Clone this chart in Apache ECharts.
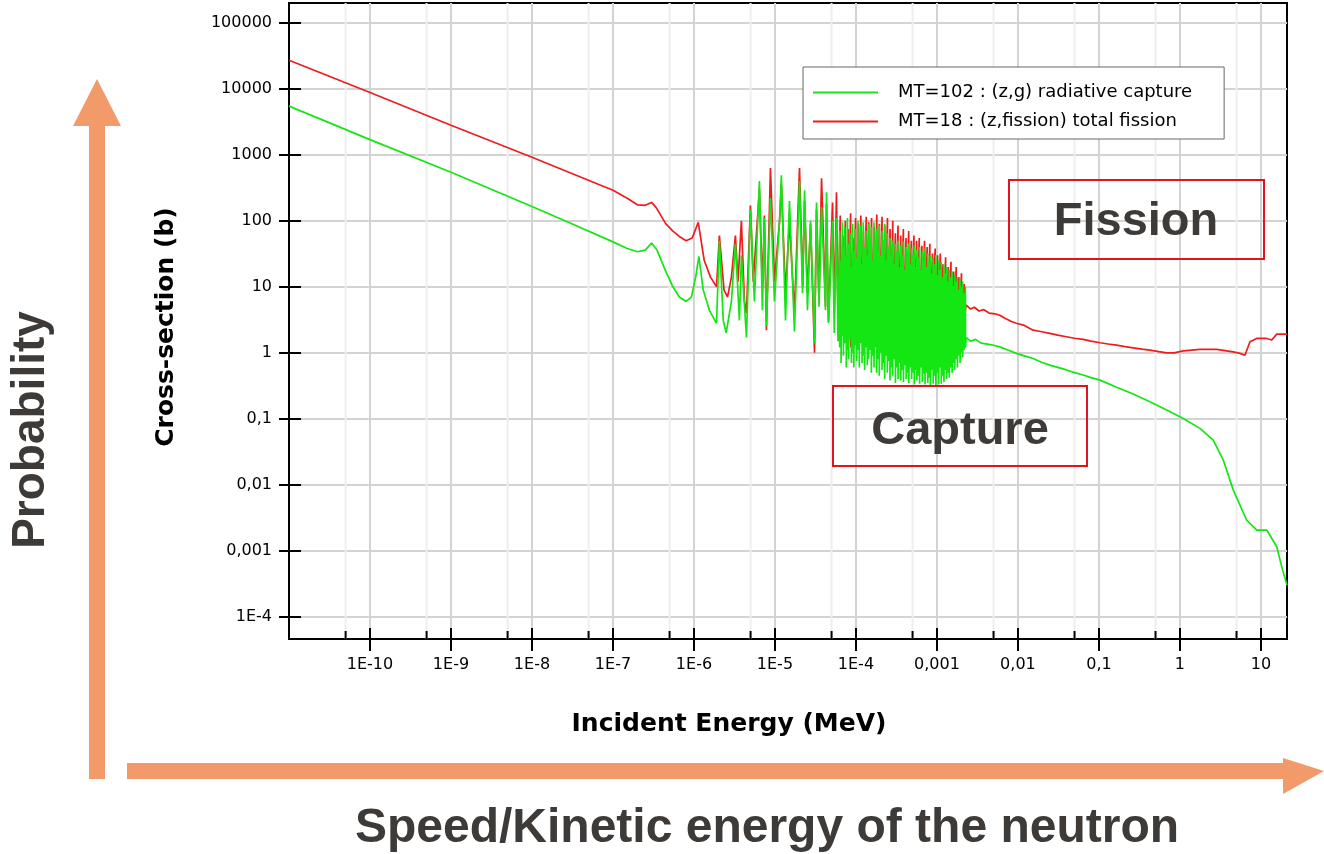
<!DOCTYPE html>
<html>
<head>
<meta charset="utf-8">
<script src="https://cdn.jsdelivr.net/npm/echarts@6/dist/echarts.min.js"></script>
<style>
  html, body { margin: 0; padding: 0; background: #fff; }
  #chart { width: 1324px; height: 854px; }
</style>
</head>
<body>
<div id="chart"></div>
<script>
// ---------------- DATA ----------------
const captureName = 'MT=102 : (z,g) radiative capture';
const fissionName = 'MT=18 : (z,fission) total fission';

// axis extents (MeV, barn)
const xMin = 1e-11, xMax = 21;
const yMin = 4.6e-5, yMax = 2e5;

const xTickValues = [1e-10, 1e-9, 1e-8, 1e-7, 1e-6, 1e-5, 1e-4, 1e-3, 1e-2, 1e-1, 1, 10];
const xTickLabels = ['1E-10', '1E-9', '1E-8', '1E-7', '1E-6', '1E-5', '1E-4', '0,001', '0,01', '0,1', '1', '10'];
const xMinorValues = [5e-11, 5e-10, 5e-9, 5e-8, 5e-7, 5e-6, 5e-5, 5e-4, 5e-3, 5e-2, 0.5, 5];
const yTickValues = [1e-4, 1e-3, 1e-2, 1e-1, 1, 10, 100, 1000, 1e4, 1e5];
const yTickLabels = ['1E-4', '0,001', '0,01', '0,1', '1', '10', '100', '1000', '10000', '100000'];

// Capture (green): thermal + resolved resonances (sparse part)
const capLowE = [1e-11, 1e-10, 1e-9, 1e-8, 3e-8, 1e-7, 1.5e-7, 2e-7, 2.5e-7, 3e-7, 3.5e-7, 4.5e-7, 5.5e-7, 6.6e-7, 8.0e-7, 9.3e-7,
  1.05e-6, 1.15e-6, 1.3e-6, 1.55e-6, 1.9e-6, 2.06e-6, 2.3e-6, 2.5e-6, 2.9e-6, 3.25e-6, 3.64e-6, 3.85e-6, 4.45e-6, 4.98e-6,
  5.58e-6, 6.43e-6, 7.0e-6, 7.41e-6, 7.85e-6, 8.8e-6, 9.86e-6, 1.14e-5, 1.2e-5, 1.35e-5, 1.51e-5, 1.74e-5, 2.01e-5, 2.19e-5,
  2.32e-5, 2.52e-5, 2.75e-5, 3.08e-5, 3.26e-5, 3.5e-5, 3.76e-5, 4.21e-5, 4.33e-5, 4.58e-5, 5.14e-5, 5.4e-5, 5.75e-5, 6.0e-5];
const capLow = [5470, 1700, 545, 165, 92, 48, 38, 34, 36, 46, 36, 17, 10, 7, 6, 7,
  14, 29, 9, 4.4, 2.8, 50, 3.1, 2.0, 6, 45, 3.1, 30, 1.7, 150,
  6, 400, 4.4, 110, 2.5, 220, 6, 100, 490, 3.1, 200, 2.1, 400, 8,
  290, 4.4, 100, 1.4, 190, 5, 160, 4.4, 270, 2.8, 100, 2, 110, 1.5];

// Capture (green): dense resonance band, peak and valley at each resonance
const capDenseE = [6.3e-5, 6.55e-5, 6.8e-5, 7.0e-5, 7.3e-5, 7.6e-5, 7.85e-5, 8.1e-5, 8.45e-5, 8.8e-5, 9.1e-5, 9.4e-5, 9.8e-5,
  1.02e-4, 1.06e-4, 1.1e-4, 1.14e-4, 1.19e-4, 1.23e-4, 1.28e-4, 1.33e-4, 1.38e-4, 1.43e-4, 1.49e-4, 1.55e-4,
  1.6e-4, 1.67e-4, 1.73e-4, 1.8e-4, 1.87e-4, 1.94e-4, 2.02e-4, 2.1e-4, 2.18e-4, 2.26e-4, 2.35e-4, 2.44e-4,
  2.54e-4, 2.63e-4, 2.74e-4, 2.84e-4, 2.95e-4, 3.07e-4, 3.19e-4, 3.31e-4, 3.44e-4, 3.58e-4, 3.72e-4, 3.86e-4,
  4.01e-4, 4.17e-4, 4.33e-4, 4.5e-4, 4.68e-4, 4.86e-4, 5.05e-4, 5.25e-4, 5.45e-4, 5.66e-4, 5.88e-4, 6.11e-4,
  6.35e-4, 6.6e-4, 6.86e-4, 7.13e-4, 7.4e-4, 7.7e-4, 8.0e-4, 8.3e-4, 8.65e-4, 8.98e-4, 9.33e-4, 9.7e-4,
  1.01e-3, 1.05e-3, 1.09e-3, 1.13e-3, 1.18e-3, 1.22e-3, 1.27e-3, 1.32e-3, 1.37e-3, 1.42e-3, 1.48e-3, 1.54e-3,
  1.6e-3, 1.66e-3, 1.72e-3, 1.79e-3, 1.86e-3, 1.93e-3, 2.0e-3, 2.08e-3, 2.16e-3, 2.25e-3];
const capTop = [70, 25, 95, 40, 80, 30, 110, 45, 65, 20, 90, 35, 75,
  28, 100, 50, 85, 22, 95, 40, 70, 30, 90, 55, 80,
  25, 95, 45, 75, 35, 85, 30, 70, 50, 90, 25, 65,
  40, 55, 30, 50, 22, 45, 35, 50, 20, 42, 30, 48,
  18, 40, 28, 45, 22, 38, 30, 42, 20, 36, 28, 40,
  18, 35, 25, 38, 20, 32, 24, 30, 16, 28, 22, 30,
  15, 25, 18, 24, 14, 22, 16, 20, 12, 18, 14, 17,
  10, 15, 12, 14, 9, 13, 10, 12, 8, 10];
const capBot = [1.2, 0.7, 1.8, 0.9, 1.4, 0.6, 1.1, 0.8, 1.6, 0.7, 1.0, 0.6, 1.3,
  0.75, 1.1, 0.6, 1.4, 0.7, 0.9, 0.55, 1.2, 0.65, 0.8, 1.1, 0.5,
  0.9, 0.6, 1.2, 0.5, 0.8, 0.45, 1.0, 0.55, 0.7, 0.4, 0.9, 0.5,
  0.75, 0.38, 0.6, 0.45, 0.8, 0.35, 0.6, 0.4, 0.7, 0.38, 0.55, 0.36,
  0.65, 0.4, 0.5, 0.35, 0.6, 0.4, 0.5, 0.33, 0.55, 0.38, 0.45, 0.34,
  0.6, 0.36, 0.48, 0.33, 0.5, 0.35, 0.42, 0.32, 0.55, 0.34, 0.45, 0.32,
  0.5, 0.33, 0.6, 0.34, 0.45, 0.36, 0.55, 0.4, 0.5, 0.42, 0.6, 0.5,
  0.7, 0.55, 0.8, 0.6, 0.9, 0.7, 1.0, 0.85, 1.1, 1.2];

// Capture (green): fast region
const capHighE = [2.3e-3, 2.6e-3, 3.0e-3, 3.5e-3, 4.2e-3, 5.0e-3, 5.96e-3, 7.5e-3, 9.57e-3, 1.2e-2, 1.54e-2, 1.95e-2,
  2.47e-2, 3.1e-2, 3.97e-2, 5e-2, 6.38e-2, 8e-2, 0.103, 0.165, 0.265, 0.426, 0.685, 1.1, 1.77, 2.58, 3.43,
  4.56, 6.68, 8.89, 11.8, 15.7, 18.1, 21];
const capHigh = [1.7, 1.5, 1.6, 1.4, 1.35, 1.3, 1.23, 1.1, 0.98, 0.9, 0.82, 0.72,
  0.65, 0.6, 0.55, 0.5, 0.46, 0.42, 0.385, 0.30, 0.237, 0.181, 0.136, 0.101, 0.0716, 0.0476, 0.0237,
  0.0083, 0.0029, 0.00206, 0.00206, 0.00115, 5.7e-4, 3.0e-4];

// Fission (red): thermal + sparse resonances
const fisLowE = [1e-11, 1e-10, 1e-9, 1e-8, 3e-8, 1e-7, 1.5e-7, 2e-7, 2.5e-7, 3e-7, 3.4e-7, 4.5e-7, 5.5e-7, 6.6e-7, 8e-7, 9.5e-7,
  1.05e-6, 1.13e-6, 1.34e-6, 1.6e-6, 1.9e-6, 2.06e-6, 2.35e-6, 2.6e-6, 2.9e-6, 3.25e-6, 3.5e-6, 3.85e-6, 4.2e-6, 4.45e-6,
  4.98e-6, 5.4e-6, 6.43e-6, 7.0e-6, 7.41e-6, 7.85e-6, 8.8e-6, 9.86e-6, 1.14e-5, 1.2e-5, 1.35e-5, 1.51e-5, 1.74e-5, 2.01e-5,
  2.2e-5, 2.32e-5, 2.52e-5, 2.75e-5, 3.08e-5, 3.26e-5, 3.5e-5, 3.76e-5, 4.21e-5, 4.33e-5, 4.58e-5, 5.14e-5, 5.4e-5, 5.75e-5, 6.0e-5];
const fisLow = [27200, 8800, 2800, 920, 530, 290, 220, 175, 172, 190, 160, 90, 70, 58, 50, 55,
  75, 95, 25, 14, 10, 60, 9, 7, 14, 60, 12, 100, 6, 4,
  170, 12, 300, 10, 120, 2.2, 630, 12, 100, 350, 8, 100, 4, 630,
  10, 200, 8, 90, 1.0, 150, 6, 440, 5, 180, 3, 190, 4, 270, 3];

// Fission (red): dense resonance band
const fisDenseE = [6.4e-5, 6.9e-5, 7.4e-5, 8.0e-5, 8.6e-5, 9.2e-5, 9.9e-5, 1.07e-4, 1.15e-4, 1.24e-4, 1.34e-4, 1.44e-4,
  1.56e-4, 1.68e-4, 1.81e-4, 1.95e-4, 2.1e-4, 2.27e-4, 2.45e-4, 2.64e-4, 2.85e-4, 3.07e-4, 3.31e-4, 3.57e-4,
  3.85e-4, 4.15e-4, 4.48e-4, 4.83e-4, 5.2e-4, 5.61e-4, 6.05e-4, 6.52e-4, 7.03e-4, 7.58e-4, 8.17e-4, 8.81e-4,
  9.5e-4, 1.02e-3, 1.1e-3, 1.19e-3, 1.28e-3, 1.38e-3, 1.49e-3, 1.61e-3, 1.73e-3, 1.87e-3, 2.01e-3, 2.17e-3];
const fisTop = [120, 60, 100, 75, 130, 55, 110, 90, 120, 70, 115, 95,
  110, 80, 125, 90, 115, 85, 110, 75, 100, 65, 85, 60,
  75, 55, 70, 50, 60, 50, 55, 42, 50, 40, 45, 32,
  38, 30, 32, 22, 28, 20, 24, 17, 20, 14, 16, 11];
const fisBot = [2, 3, 1.5, 2.5, 1.2, 3, 2, 1.5, 2.5, 1.8, 3, 1.4,
  2.2, 1.6, 2.8, 1.3, 2, 1.5, 2.4, 1.2, 1.8, 1.1, 2, 1.3,
  1.7, 1.2, 1.9, 1.1, 1.6, 1.2, 1.8, 1.3, 1.5, 1.1, 1.7, 1.3,
  1.6, 1.4, 1.8, 1.5, 2, 1.7, 2.2, 1.9, 2.6, 2.4, 3, 3.5];

// Fission (red): fast region
const fisHighE = [2.3e-3, 2.6e-3, 2.9e-3, 3.3e-3, 3.8e-3, 4.4e-3, 5.2e-3, 5.96e-3, 7.0e-3, 8.2e-3, 9.57e-3, 1.2e-2,
  1.54e-2, 1.9e-2, 2.47e-2, 3.1e-2, 3.97e-2, 5e-2, 6.38e-2, 8e-2, 0.103, 0.13, 0.165, 0.21, 0.265, 0.34, 0.426,
  0.55, 0.685, 0.85, 1.1, 1.4, 1.77, 2.2, 2.84, 3.6, 4.56, 5.5, 6.35, 7.33, 8.87, 11.8, 13.6, 15.7, 21];
const fisHigh = [5.3, 4.6, 4.9, 4.3, 4.5, 4.0, 3.9, 3.7, 3.3, 3.0, 2.8, 2.6,
  2.2, 2.1, 1.97, 1.85, 1.75, 1.66, 1.6, 1.5, 1.42, 1.36, 1.31, 1.24, 1.19, 1.14, 1.10,
  1.04, 1.0, 1.0, 1.07, 1.1, 1.13, 1.13, 1.13, 1.08, 1.03, 0.98, 0.92, 1.47, 1.65, 1.65, 1.56, 1.92, 1.92];

// ---------------- BUILD ----------------
const L = Math.log10;
const pairs = (E, S) => E.map((e, i) => [L(e), L(S[i])]);
const band = (E, top, bot) => {
  const out = [];
  E.forEach((e, i) => { out.push([L(e), L(top[i])]); out.push([L(e), L(bot[i])]); });
  return out;
};
const captureData = [].concat(pairs(capLowE, capLow), band(capDenseE, capTop, capBot), pairs(capHighE, capHigh));
const fissionData = [].concat(pairs(fisLowE, fisLow), band(fisDenseE, fisTop, fisBot), pairs(fisHighE, fisHigh));

const xLo = L(xMin), xHi = L(xMax), yLo = L(yMin), yHi = L(yMax);
const labelFor = (vals, labels) => (v) => {
  for (let i = 0; i < vals.length; i++) if (Math.abs(L(vals[i]) - v) < 1e-6) return labels[i];
  return '';
};

const RED = '#ee1c1c', GREEN = '#14e614', ARROW = '#f39a6b', BOX = '#e0141e', TXT = '#3e3a37';
const tickFont = { fontFamily: 'DejaVu Sans', fontSize: 16, color: '#000' };
const titleFont = { fontFamily: 'DejaVu Sans', fontWeight: 'bold', fontSize: 25, color: '#000' };
const bigFont = 'bold 47px "Liberation Sans", Arial, sans-serif';

const chart = echarts.init(document.getElementById('chart'), null, { renderer: 'canvas' });
chart.setOption({
  animation: false,
  backgroundColor: '#fff',
  grid: { left: 289, right: 37, top: 3, bottom: 215, containLabel: false, outerBoundsMode: 'none',
    show: true, borderColor: '#000', borderWidth: 2, backgroundColor: '#fff' },
  legend: {
    data: [{ name: captureName, icon: 'rect' }, { name: fissionName, icon: 'rect' }],
    orient: 'vertical', left: 803, top: 67,
    padding: [16, 32, 8, 10], itemGap: 10, itemWidth: 65, itemHeight: 2,
    backgroundColor: '#fff', borderColor: '#666', borderWidth: 1, selectedMode: false,
    textStyle: { fontFamily: 'DejaVu Sans', fontSize: 18, color: '#000', lineHeight: 19, padding: [0, 0, 0, 15] }
  },
  xAxis: [{
    type: 'value', position: 'bottom', min: xLo, max: xHi, interval: 1,
    name: 'Incident Energy (MeV)', nameLocation: 'middle', nameGap: 73,
    nameTextStyle: Object.assign({ padding: [0, 118, 0, 0] }, titleFont),
    axisLine: { show: true, onZero: false, lineStyle: { color: '#000', width: 2 } },
    axisTick: { show: true, inside: false, length: 12, lineStyle: { color: '#000', width: 2 }, customValues: xTickValues.map(L) },
    axisLabel: Object.assign({ margin: 18, customValues: xTickValues.map(L), formatter: labelFor(xTickValues, xTickLabels) }, tickFont),
    splitLine: { show: true, lineStyle: { color: '#d3d3d3', width: 2 } }
  }, {
    type: 'value', position: 'bottom', min: xLo, max: xHi, interval: 1,
    axisLine: { show: false, onZero: false }, axisLabel: { show: false }, splitLine: { show: false },
    axisTick: { show: true, inside: true, length: 11, lineStyle: { color: '#000', width: 2 }, customValues: xTickValues.map(L) }
  }],
  yAxis: [{
    type: 'value', position: 'left', min: yLo, max: yHi, splitNumber: 10,
    name: 'Cross-section (b)', nameLocation: 'middle', nameGap: 110,
    nameTextStyle: Object.assign({ padding: [0, 12, 0, 0] }, titleFont),
    axisLine: { show: true, onZero: false, lineStyle: { color: '#000', width: 2 } },
    axisTick: { show: true, inside: false, length: 10, lineStyle: { color: '#000', width: 2 }, customValues: yTickValues.map(L) },
    axisLabel: Object.assign({ margin: 17, customValues: yTickValues.map(L), formatter: labelFor(yTickValues, yTickLabels) }, tickFont),
    splitLine: { show: true, lineStyle: { color: '#d3d3d3', width: 2 } }
  }, {
    type: 'value', position: 'left', min: yLo, max: yHi, splitNumber: 10,
    axisLine: { show: false, onZero: false }, axisLabel: { show: false }, splitLine: { show: false },
    axisTick: { show: true, inside: true, length: 12, lineStyle: { color: '#000', width: 2 }, customValues: yTickValues.map(L) }
  }],
  series: [
    {
      type: 'custom', name: 'minor', xAxisIndex: 0, yAxisIndex: 0, z: 1, silent: true,
      data: xMinorValues.map(v => [L(v), yLo]), encode: { x: 0, y: 1 },
      renderItem: (params, api) => {
        const xv = api.value(0);
        const top = api.coord([xv, yHi]);
        const bot = api.coord([xv, yLo]);
        return { type: 'group', children: [
          { type: 'line', shape: { x1: top[0], y1: top[1], x2: bot[0], y2: bot[1] }, style: { stroke: '#eeeeee', lineWidth: 2 } },
          { type: 'line', shape: { x1: bot[0], y1: bot[1], x2: bot[0], y2: bot[1] - 8 }, style: { stroke: '#000', lineWidth: 2 } }
        ] };
      }
    },
    { type: 'line', name: fissionName, data: fissionData, symbol: 'none', showSymbol: false, z: 2,
      lineStyle: { color: RED, width: 1.7 }, itemStyle: { color: RED } },
    { type: 'line', name: captureName, data: captureData, symbol: 'none', showSymbol: false, z: 3,
      lineStyle: { color: GREEN, width: 1.7 }, itemStyle: { color: GREEN } }
  ],
  graphic: [
    { type: 'rect', z: 100, shape: { x: 89, y: 125, width: 16, height: 654 }, style: { fill: ARROW } },
    { type: 'polygon', z: 100, shape: { points: [[73, 126], [121, 126], [97, 79]] }, style: { fill: ARROW } },
    { type: 'rect', z: 100, shape: { x: 127, y: 763, width: 1157, height: 16 }, style: { fill: ARROW } },
    { type: 'polygon', z: 100, shape: { points: [[1283, 758], [1283, 794], [1324, 771]] }, style: { fill: ARROW } },
    { type: 'rect', z: 100, shape: { x: 1009, y: 180, width: 255, height: 79 }, style: { fill: 'none', stroke: BOX, lineWidth: 2 } },
    { type: 'rect', z: 100, shape: { x: 833, y: 386, width: 254, height: 80 }, style: { fill: 'none', stroke: BOX, lineWidth: 2 } },
    { type: 'text', z: 100, x: 1136, y: 222, style: { text: 'Fission', font: bigFont, fill: TXT, textAlign: 'center', textVerticalAlign: 'middle', align: 'center', verticalAlign: 'middle' } },
    { type: 'text', z: 100, x: 960, y: 431, style: { text: 'Capture', font: bigFont, fill: TXT, textAlign: 'center', textVerticalAlign: 'middle', align: 'center', verticalAlign: 'middle' } },
    { type: 'text', z: 100, x: 31, y: 430, rotation: Math.PI / 2, style: { text: 'Probability', font: 'bold 46px "Liberation Sans", Arial, sans-serif', fill: TXT, textAlign: 'center', textVerticalAlign: 'middle', align: 'center', verticalAlign: 'middle' } },
    { type: 'text', z: 100, x: 767, y: 829, style: { text: 'Speed/Kinetic energy of the neutron', font: 'bold 48px "Liberation Sans", Arial, sans-serif', fill: TXT, textAlign: 'center', textVerticalAlign: 'middle', align: 'center', verticalAlign: 'middle' } }
  ]
});
</script>
</body>
</html>
